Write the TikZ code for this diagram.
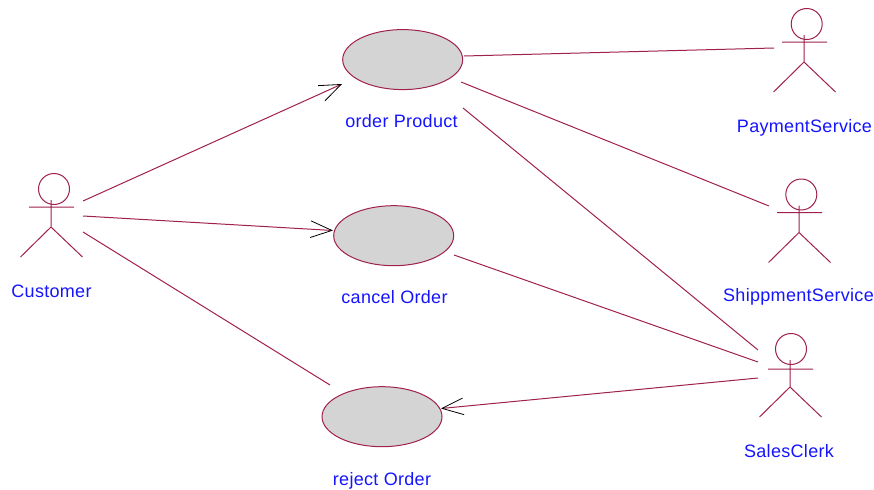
\documentclass[tikz,border=0pt]{standalone}
\usepackage{fontspec}
\setmainfont{Liberation Sans}
\usetikzlibrary{arrows.meta,shapes.geometric}
\definecolor{umlline}{RGB}{160,32,80}
\definecolor{umlfill}{RGB}{212,212,212}
\definecolor{umltext}{RGB}{20,20,255}
\tikzset{
  x=0.75pt,y=-0.75pt,
  usecase/.style={ellipse,draw=umlline,fill=umlfill,line width=0.75pt,minimum width=90pt,minimum height=45pt,inner sep=0pt},
  lbl/.style={text=umltext,font=\fontsize{13.5pt}{16pt}\selectfont\addfontfeature{LetterSpace=1.7},anchor=base,inner sep=0pt},
  assoc/.style={draw=umlline,line width=0.75pt},
  nav/.style={assoc,-{Straight Barb[black,line width=0.6pt,length=16pt,width=12.5pt]}},
  pics/actor/.style 2 args={code={
    \draw[assoc] (#1,-18) circle[radius=15.5*0.75pt];
    \draw[assoc] (0,-7) -- (0,20) (-22,#2) -- (23,#2) (-30.5,50) -- (0,20) -- (31.5,50);
  }}
}
\begin{document}
\begin{tikzpicture}
\useasboundingbox (0,0) rectangle (874,489);
% use cases
\node[usecase] (order) at (402.7,59.6) {};
\node[usecase] (cancel) at (393.7,235.7) {};
\node[usecase] (reject) at (382,416.7) {};
% actors
\pic (customer) at (51,207) {actor={3}{0}};
\pic (payment) at (804,42) {actor={2.7}{0}};
\pic (shipping) at (799,212.5) {actor={2.3}{0}};
\pic (clerk) at (790,367) {actor={1}{2}};
% labels
\node[lbl] (lcustomer) at (51.5,297) {Customer};
\node[lbl] (lorder) at (401.5,127.5) {order Product};
\node[lbl] (lcancel) at (394.5,303.5) {cancel Order};
\node[lbl] (lreject) at (382,485.7) {reject Order};
\node[lbl] (lpayment) at (804.5,132) {PaymentService};
\node[lbl] (lshipping) at (798.5,301.7) {ShippmentService};
\node[lbl] (lclerk) at (789,457) {SalesClerk};
% connector ends
\coordinate (cA) at (83,201);
\coordinate (cB) at (83,216);
\coordinate (cC) at (83,232);
\coordinate (oTip) at (342,84);
\coordinate (caTip) at (333,230.5);
\coordinate (rEnd) at (330,385);
\coordinate (oP) at (464,56);
\coordinate (oS) at (461,82);
\coordinate (oC) at (463,108);
\coordinate (caC) at (454,255);
\coordinate (pA) at (774,48);
\coordinate (sA) at (769,206);
\coordinate (k1) at (758,350);
\coordinate (k2) at (758,362);
\coordinate (k3) at (758,378);
\coordinate (rTip) at (441,408.5);
% connectors
\draw[nav] (cA) -- (oTip);
\draw[nav] (cB) -- (caTip);
\draw[assoc] (cC) -- (rEnd);
\draw[assoc] (oP) -- (pA);
\draw[assoc] (oS) -- (sA);
\draw[assoc] (oC) -- (k1);
\draw[assoc] (caC) -- (k2);
\draw[nav] (k3) -- (rTip);
\end{tikzpicture}
\end{document}
